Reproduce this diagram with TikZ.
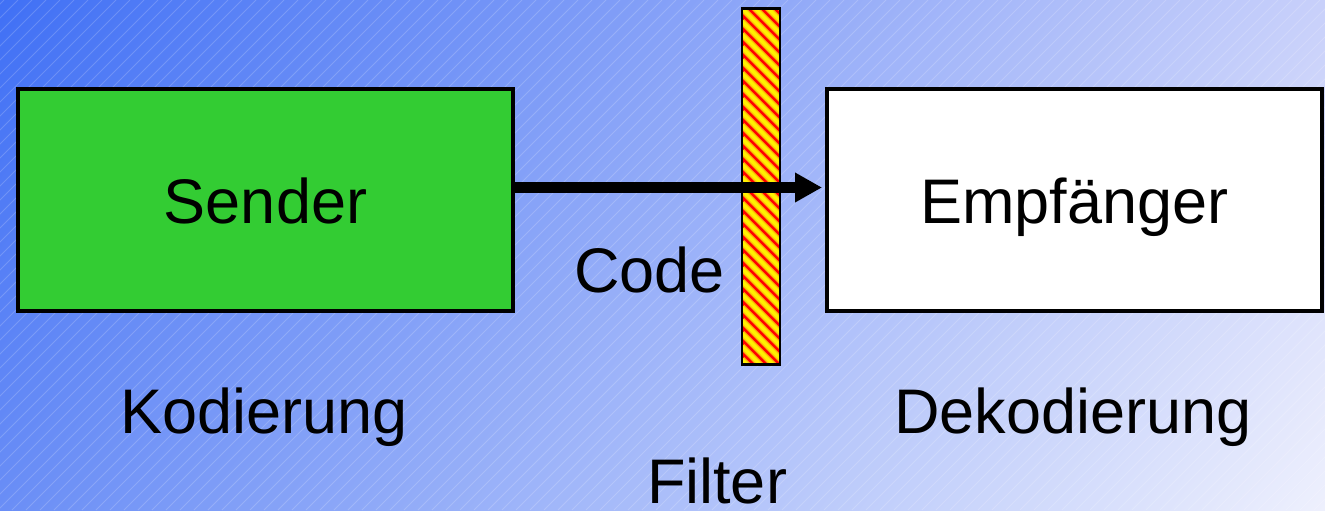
\documentclass[tikz,border=0pt]{standalone}
\usepackage{fontspec}
\setmainfont{Liberation Sans}
\usetikzlibrary{arrows.meta, positioning, shadings}

\definecolor{sendergreen}{RGB}{51,204,51}
\definecolor{bgul}{RGB}{64,112,245}
\definecolor{bgur}{RGB}{200,208,250}
\definecolor{bgll}{RGB}{106,142,246}
\definecolor{bglr}{RGB}{238,240,253}

\begin{document}
\begin{tikzpicture}[
  x=0.5pt, y=0.5pt,
  box/.style={draw, line width=2pt, minimum width=247.5pt, minimum height=111pt, inner sep=0pt,
    font=\fontsize{31.5pt}{38pt}\selectfont, text height=23pt, text depth=0pt},
  bar/.style={draw, line width=1.3pt, fill=red, minimum width=19pt, minimum height=178pt, inner sep=0pt,
    path picture={
      \foreach \k in {-5,...,30}
        \draw[yellow!50!orange, line width=3.2pt] ([yshift=-\k*6.5pt]path picture bounding box.north west) -- ++(25pt,-25pt);
      \foreach \k in {-5,...,30}
        \draw[yellow, line width=1.8pt] ([yshift=-\k*6.5pt]path picture bounding box.north west) -- ++(25pt,-25pt);
    }},
  caption/.style={font=\fontsize{31.5pt}{38pt}\selectfont, inner sep=0pt},
  hatch/.style={white, opacity=0.18, line width=0.5pt},
  arrow/.style={-{Triangle[length=13.5pt, width=14pt]}, line width=5.5pt}
  ]

% Background
\useasboundingbox (0,0) rectangle (1325,510);
\shade[upper left=bgul, upper right=bgur, lower left=bgll, lower right=bglr] (0,0) rectangle (1325,510);
\begin{scope}
  \clip (0,0) rectangle (1325,510);
  \foreach \k in {-520,-506,...,1330}
    \draw[hatch] (\k,0) -- ++(510,510);
\end{scope}

% Nodes
\node[box, fill=sendergreen] (sender) at (265.5,310) {Sender};
\node[box, fill=white, right=155pt of sender] (recv) {Empfänger};
\node[bar] (filter) at (761,323.6) {};

% Arrows
\draw[arrow, shorten >=1.5pt] ([yshift=6.25pt]sender.east) -- ([yshift=6.25pt]recv.west);

% Labels
\node[caption, anchor=base east] (code) at (725,218) {Code};
\node[caption, anchor=base] (kod) at (264,77) {Kodierung};
\node[caption, anchor=base] (dekod) at (1073,77) {Dekodierung};
\node[caption, anchor=base] (filtertext) at (717,7) {Filter};

\end{tikzpicture}
\end{document}
